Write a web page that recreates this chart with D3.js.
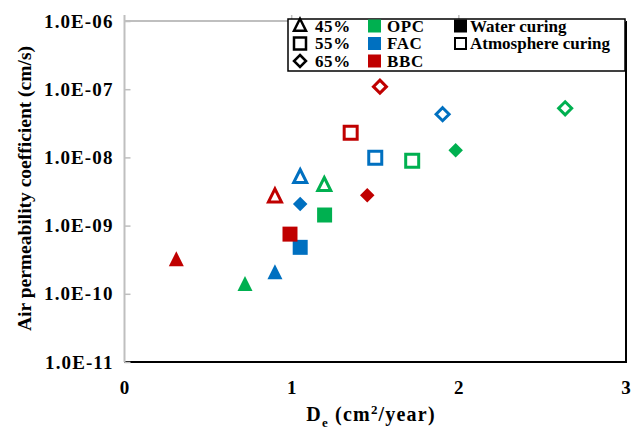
<!DOCTYPE html>
<html>
<head>
<meta charset="utf-8">
<script src="https://cdn.jsdelivr.net/npm/d3@7"></script>
<style>
  body { margin: 0; background: #fff; }
  svg { display: block; }
</style>
</head>
<body>
<div id="chart"></div>
<script>
// series labels
var mixes = ["OPC", "FAC", "BBC"];
var ratios = ["45%", "55%", "65%"];
var curings = ["Water curing", "Atmosphere curing"];

// De (cm2/year), one value per ratio 45/55/65
var waterDe = {
  OPC: [0.721, 1.197, 1.981],
  FAC: [0.90, 1.051, 1.051],
  BBC: [0.31, 0.99, 1.452]
};
var atmDe = {
  OPC: [1.195, 1.721, 2.636],
  FAC: [1.051, 1.50, 1.903],
  BBC: [0.90, 1.353, 1.528]
};
// air permeability coefficient (cm/s)
var waterK = {
  OPC: [1.35e-10, 1.43e-9, 1.27e-8],
  FAC: [2.0e-10, 4.8e-10, 2.07e-9],
  BBC: [3.1e-10, 7.5e-10, 2.78e-9]
};
var atmK = {
  OPC: [3.9e-9, 8.9e-9, 5.25e-8],
  FAC: [5.1e-9, 9.9e-9, 4.3e-8],
  BBC: [2.65e-9, 2.3e-8, 1.09e-7]
};

var xTicks = [0, 1, 2, 3];
var yTicks = [1e-11, 1e-10, 1e-9, 1e-8, 1e-7, 1e-6];

var attrs = {
  svgWidth: 644,
  svgHeight: 432,
  marginLeft: 124.5,
  marginTop: 21,
  marginRight: 18,
  marginBottom: 70,
  font: 'Liberation Serif',
  axisGray: '#bfbfbf',
  colors: { OPC: '#00b050', FAC: '#0070c0', BBC: '#c00000' },
  shapes: ['triangle', 'square', 'diamond']
};

var calc = {};
calc.w = attrs.svgWidth - attrs.marginLeft - attrs.marginRight;
calc.h = attrs.svgHeight - attrs.marginTop - attrs.marginBottom;

// flatten into points
var points = [];
mixes.forEach(function (m) {
  ratios.forEach(function (r, i) {
    points.push({ mix: m, ratio: r, shape: attrs.shapes[i], curing: curings[0], x: waterDe[m][i], y: waterK[m][i] });
    points.push({ mix: m, ratio: r, shape: attrs.shapes[i], curing: curings[1], x: atmDe[m][i], y: atmK[m][i] });
  });
});

var x = d3.scaleLinear().domain([0, 3]).range([0, calc.w]);
var y = d3.scaleLog().domain([1e-11, 1e-6]).range([calc.h, 0]);

var svg = d3.select('#chart').append('svg')
  .attr('width', attrs.svgWidth)
  .attr('height', attrs.svgHeight)
  .attr('font-family', attrs.font);

var chart = svg.append('g')
  .attr('transform', 'translate(' + attrs.marginLeft + ',' + attrs.marginTop + ')');

// shape paths, size = outer size
function shapePath(shape, s) {
  var h = s / 2;
  if (shape === 'square') return 'M' + (-h) + ',' + (-h) + 'H' + h + 'V' + h + 'H' + (-h) + 'Z';
  if (shape === 'diamond') return 'M0,' + (-h) + 'L' + h + ',0L0,' + h + 'L' + (-h) + ',0Z';
  // triangle, centroid at origin
  return 'M0,' + (-s * 0.6) + 'L' + h + ',' + (s * 0.4) + 'L' + (-h) + ',' + (s * 0.4) + 'Z';
}

// plot frame: black bottom + right, gray top + left
chart.append('line').attr('x1', 0).attr('x2', calc.w).attr('y1', calc.h).attr('y2', calc.h)
  .attr('stroke', '#000').attr('stroke-width', 2);
chart.append('line').attr('x1', calc.w).attr('x2', calc.w).attr('y1', 0).attr('y2', calc.h + 1)
  .attr('stroke', '#000').attr('stroke-width', 2);
chart.append('line').attr('x1', 0).attr('x2', calc.w).attr('y1', 0).attr('y2', 0)
  .attr('stroke', attrs.axisGray).attr('stroke-width', 2);

// y axis (gray, ticks inside)
var yAxis = chart.append('g')
  .call(d3.axisRight(y).tickValues(yTicks).tickSize(6).tickFormat(''));
yAxis.select('.domain').remove();
yAxis.selectAll('line').attr('stroke', attrs.axisGray).attr('stroke-width', 1.5);
chart.append('line').attr('x1', 0).attr('x2', 0).attr('y1', -6).attr('y2', calc.h)
  .attr('stroke', attrs.axisGray).attr('stroke-width', 2);

// top tick marks for x
chart.selectAll('.xtop').data(xTicks.slice(1, 3)).enter().append('line')
  .attr('class', 'xtop')
  .attr('x1', d => x(d)).attr('x2', d => x(d)).attr('y1', -6).attr('y2', 0)
  .attr('stroke', attrs.axisGray).attr('stroke-width', 1.5);

// tick labels
chart.selectAll('.ylab').data(yTicks).enter().append('text')
  .attr('class', 'ylab')
  .attr('x', -11).attr('y', d => y(d)).attr('dy', '0.35em')
  .attr('text-anchor', 'end')
  .attr('font-size', 19).attr('font-weight', 'bold')
  .attr('letter-spacing', 1.1)
  .text(d => '1.0E-' + String(-Math.round(Math.log10(d))).padStart(2, '0'));

chart.selectAll('.xlab').data(xTicks).enter().append('text')
  .attr('class', 'xlab')
  .attr('x', d => x(d)).attr('y', calc.h + 32)
  .attr('text-anchor', 'middle')
  .attr('font-size', 19).attr('font-weight', 'bold')
  .text(d => d);

// axis titles
var xt = svg.append('text')
  .attr('x', 371).attr('y', 421)
  .attr('text-anchor', 'middle')
  .attr('font-size', 20).attr('font-weight', 'bold')
  .attr('letter-spacing', 1.2);
xt.append('tspan').text('D');
xt.append('tspan').attr('font-size', 13).attr('dy', 6).text('e');
xt.append('tspan').attr('dy', -6).text(' (cm');
xt.append('tspan').attr('font-size', 13).attr('dy', -7).text('2');
xt.append('tspan').attr('dy', 7).text('/year)');

svg.append('text')
  .attr('transform', 'translate(31,' + (attrs.marginTop + calc.h / 2 - 3) + ') rotate(-90)')
  .attr('text-anchor', 'middle')
  .attr('font-size', 19.5).attr('font-weight', 'bold')
  .text('Air permeability coefficient (cm/s)');

// points
chart.selectAll('.pt').data(points).enter().append('path')
  .attr('class', 'pt')
  .attr('transform', d => 'translate(' + x(d.x) + ',' + y(d.y) + ')')
  .attr('d', d => d.curing === curings[0] ? shapePath(d.shape, d.shape === 'diamond' ? 14.5 : 15) : shapePath(d.shape, 13))
  .attr('fill', d => d.curing === curings[0] ? attrs.colors[d.mix] : '#fff')
  .attr('stroke', d => d.curing === curings[0] ? 'none' : attrs.colors[d.mix])
  .attr('stroke-width', 3)
  .attr('stroke-linejoin', 'miter');

// legend
var legend = svg.append('g').attr('transform', 'translate(288,19)');
legend.append('rect').attr('width', 337).attr('height', 52)
  .attr('fill', '#fff').attr('stroke', '#000').attr('stroke-width', 1.5);

var rowY = [7, 24.5, 42];
var legendFont = 17;
ratios.forEach(function (r, i) {
  legend.append('path')
    .attr('transform', 'translate(12,' + rowY[i] + ')')
    .attr('d', shapePath(attrs.shapes[i], 12))
    .attr('fill', 'none').attr('stroke', '#000').attr('stroke-width', 2.5);
  legend.append('text').attr('x', 27).attr('y', rowY[i]).attr('dy', '0.35em')
    .attr('font-size', legendFont).attr('font-weight', 'bold').attr('letter-spacing', 0.6).text(r);
});
mixes.forEach(function (m, i) {
  legend.append('rect').attr('x', 80).attr('y', rowY[i] - 6.5).attr('width', 13).attr('height', 13)
    .attr('fill', attrs.colors[m]);
  legend.append('text').attr('x', 99).attr('y', rowY[i]).attr('dy', '0.35em')
    .attr('font-size', legendFont).attr('font-weight', 'bold').attr('letter-spacing', 0.6).text(m);
});
curings.forEach(function (c, i) {
  var filled = i === 0;
  legend.append('rect')
    .attr('x', filled ? 166 : 167).attr('y', rowY[i] - (filled ? 6.5 : 5.5))
    .attr('width', filled ? 13 : 11).attr('height', filled ? 13 : 11)
    .attr('fill', filled ? '#000' : '#fff').attr('stroke', filled ? 'none' : '#000').attr('stroke-width', 2);
  legend.append('text').attr('x', 182).attr('y', rowY[i]).attr('dy', '0.35em')
    .attr('font-size', legendFont).attr('font-weight', 'bold').text(c);
});
</script>
</body>
</html>
